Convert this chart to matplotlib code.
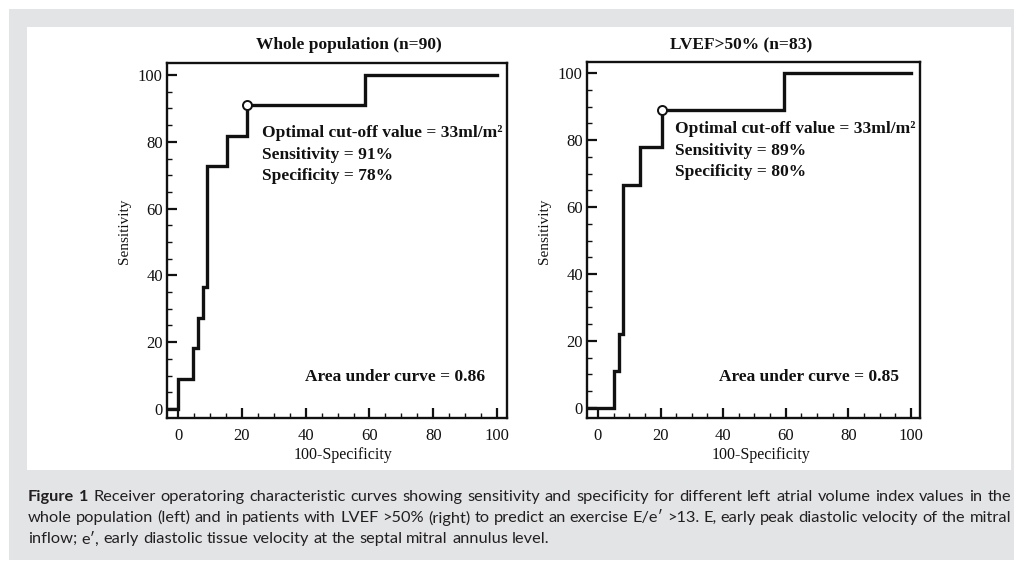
import matplotlib
matplotlib.use('Agg')
import matplotlib.pyplot as plt
from matplotlib.patches import Rectangle
from matplotlib.ticker import MultipleLocator

# ---------------- data ----------------
left_title = "Whole population (n=90)"
right_title = "LVEF>50% (n=83)"

left_fpr = [-3.5, 0.0, 4.7, 6.3, 7.8, 9.1, 15.4, 21.6, 58.6, 100.0]
left_tpr = [0.0, 9.1, 18.2, 27.3, 36.4, 72.7, 81.8, 90.9, 100.0, 100.0]
left_cut = (21.6, 90.9)

right_fpr = [-3.5, 5.1, 6.7, 8.0, 13.4, 20.4, 59.4, 100.0]
right_tpr = [0.0, 11.1, 22.2, 66.7, 77.8, 88.9, 100.0, 100.0]
right_cut = (20.4, 88.9)

left_note = ["Optimal cut-off value = 33ml/m\u00b2", "Sensitivity = 91%", "Specificity = 78%"]
right_note = ["Optimal cut-off value = 33ml/m\u00b2", "Sensitivity = 89%", "Specificity = 80%"]
left_auc = "Area under curve = 0.86"
right_auc = "Area under curve = 0.85"

ticks = [0, 20, 40, 60, 80, 100]
xlabel = "100-Specificity"
ylabel = "Sensitivity"

caption_line1 = "Receiver operatoring characteristic curves showing sensitivity and specificity for different left atrial volume index values in the"
caption_line2 = "whole population (left) and in patients with LVEF >50% (right) to predict an exercise E/e\u2032 >13. E, early peak diastolic velocity of the mitral"
caption_line3 = "inflow; e\u2032, early diastolic tissue velocity at the septal mitral annulus level."
caption_bold = "Figure 1"

# ---------------- figure ----------------
W, H = 1014, 562
fig = plt.figure(figsize=(W / 100, H / 100), dpi=100)
fig.patch.set_facecolor('white')

def fx(px):
    return px / W

def fy(py):
    return 1 - py / H

def rect(x0, y0, x1, y1, color, z):
    fig.patches.append(Rectangle((fx(x0), fy(y1)), fx(x1) - fx(x0), fy(y0) - fy(y1),
                                 transform=fig.transFigure, facecolor=color,
                                 edgecolor='none', zorder=z))

rect(9, 9, 1014, 560, '#e3e4e6', -10)
rect(27, 27, 1011, 470, 'white', -9)

SERIF = ['Liberation Serif', 'DejaVu Serif']

def make_axes(box, xlim, ylim, fpr, tpr, cut, note, note_xy, auc, auc_xy):
    x0, y0, x1, y1 = box
    ax = fig.add_axes([fx(x0), fy(y1), fx(x1) - fx(x0), fy(y0) - fy(y1)])
    ax.set_facecolor('none')
    ax.step(fpr, tpr, where='post', color='#111111', lw=2.4, solid_joinstyle='miter', zorder=3)
    ax.plot([cut[0]], [cut[1]], 'o', ms=6.5, mfc='white', mec='#111111', mew=1.4, zorder=4)
    ax.set_xlim(*xlim)
    ax.set_ylim(*ylim)
    ax.set_xticks(ticks)
    ax.set_yticks(ticks)
    ax.xaxis.set_minor_locator(MultipleLocator(5))
    ax.yaxis.set_minor_locator(MultipleLocator(5))
    ax.tick_params(which='major', direction='in', length=7, width=1.6, labelsize=12,
                   top=False, right=False, colors='#111111')
    ax.tick_params(axis='x', which='major', pad=7)
    ax.tick_params(axis='y', which='major', pad=3)
    ax.tick_params(which='minor', direction='in', length=3.5, width=1.0,
                   top=False, right=False, colors='#111111')
    for lab in ax.get_xticklabels() + ax.get_yticklabels():
        lab.set_family(SERIF)
        lab.set_color('#111111')
    for s in ax.spines.values():
        s.set_linewidth(1.7)
        s.set_color('#111111')
    ax.text(note_xy[0], note_xy[1], "\n".join(note), family=SERIF, weight='bold',
            fontsize=12.5, va='top', ha='left', linespacing=1.45, color='#111111')
    ax.text(auc_xy[0], auc_xy[1], auc, family=SERIF, weight='bold', fontsize=12.5,
            va='center', ha='right', color='#111111')
    return ax

ax1 = make_axes((167, 63, 507, 418), (-3.45, 103.1), (-2.7, 103.6),
                left_fpr, left_tpr, left_cut, left_note, (26.3, 85.0), left_auc, (96.2, 9.6))
ax2 = make_axes((587, 62, 920, 418), (-3.5, 102.9), (-3.0, 103.3),
                right_fpr, right_tpr, right_cut, right_note, (24.6, 85.6), right_auc, (96.2, 9.3))

fig.text(fx(349), fy(45), left_title, family=SERIF, weight='bold', fontsize=12.5,
         ha='center', va='center', color='#111111')
fig.text(fx(741), fy(45), right_title, family=SERIF, weight='bold', fontsize=12.5,
         ha='center', va='center', color='#111111')
for cx in (125, 545):
    fig.text(fx(cx), fy(231), ylabel, family=SERIF, fontsize=11, rotation=90,
             ha='center', va='center', color='#111111')
for cx in (343, 761):
    fig.text(fx(cx), fy(455), xlabel, family=SERIF, fontsize=11.5,
             ha='center', va='center', color='#111111')

# ---------------- caption (justified) ----------------
CAP_FONT = ['Lato', 'DejaVu Sans']
CAP_COLOR = '#231f20'
renderer = fig.canvas.get_renderer()

def word_width(word, size, bold=False):
    t = fig.text(0, 0, word, family=CAP_FONT, fontsize=size,
                 weight='bold' if bold else 'normal')
    w = t.get_window_extent(renderer).width
    t.remove()
    return w

line1_words = [(w, True) for w in caption_bold.split()] + [(w, False) for w in caption_line1.split()]
line2_words = [(w, False) for w in caption_line2.split()]
line3_words = [(w, False) for w in caption_line3.split()]

X0, X1 = 28, 1011
ref = 10.0
sp_ref = word_width("a b", ref) - word_width("ab", ref)

def natural(words, size):
    sp = sp_ref * size / ref
    return sum(word_width(w, size, b) for w, b in words) + sp * (len(words) - 1)

n3 = natural(line3_words, ref)
n1 = natural(line1_words, ref)
size = min(ref * 564 / n3, ref * (X1 - X0 - 10) / n1)

def place(words, py, justify):
    widths = [word_width(w, size, b) for w, b in words]
    sp = sp_ref * size / ref
    if justify and len(words) > 1:
        sp = (X1 - X0 - sum(widths)) / (len(words) - 1)
    x = X0
    for (w, b), wd in zip(words, widths):
        fig.text(fx(x), fy(py), w, family=CAP_FONT, fontsize=size,
                 weight='bold' if b else 'normal', ha='left', va='center', color=CAP_COLOR)
        x += wd + sp

place(line1_words, 497, True)
place(line2_words, 518, True)
place(line3_words, 539, False)

fig.savefig('out.png', dpi=100, facecolor='white')
